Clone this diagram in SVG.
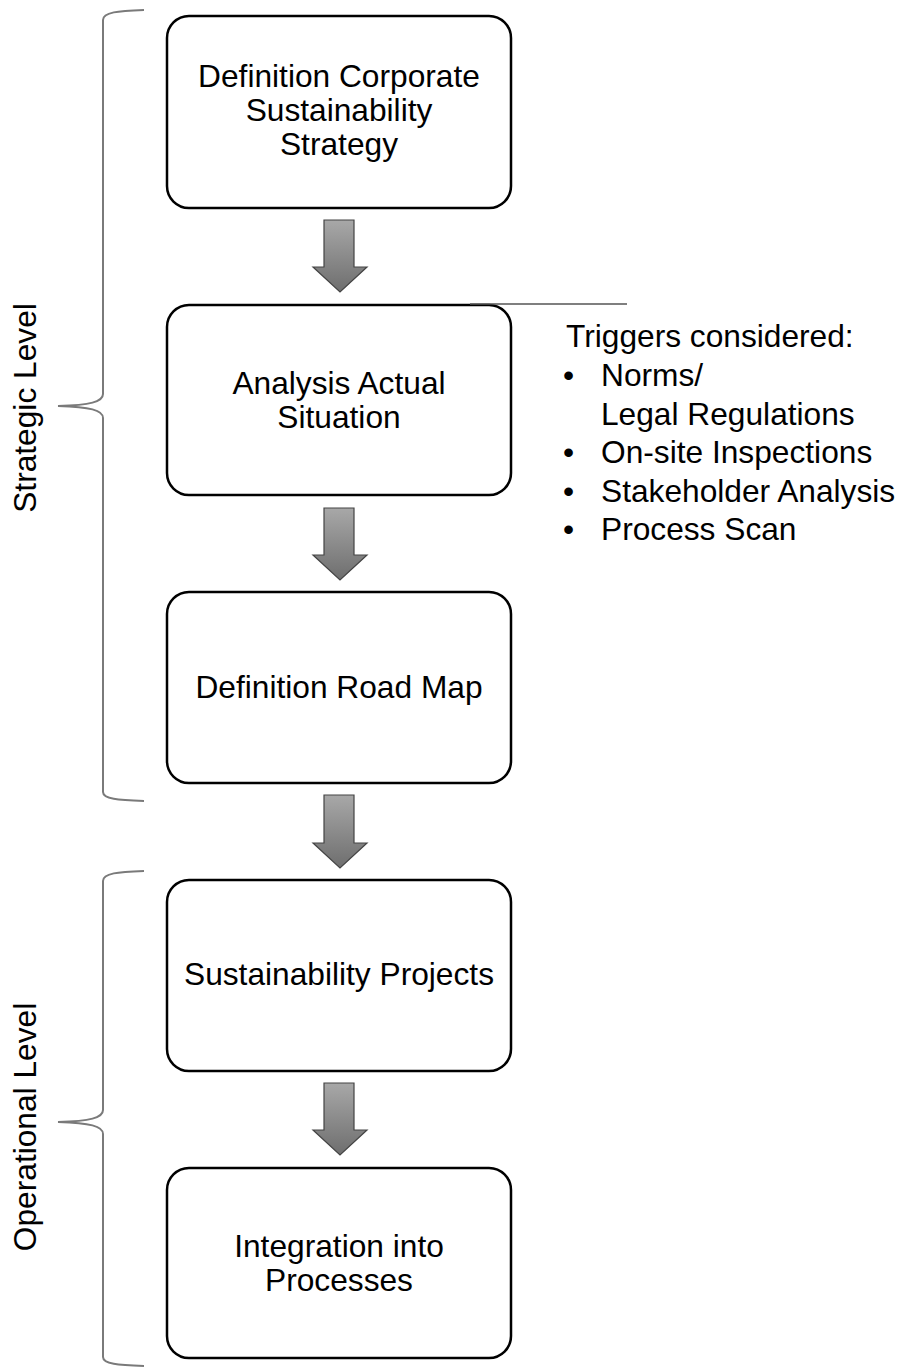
<svg xmlns="http://www.w3.org/2000/svg" width="898" height="1369" viewBox="0 0 898 1369">
<style>
.box{fill:#fff;stroke:#000;stroke-width:2.5}
.t{font-family:"Liberation Sans",Arial,sans-serif;font-size:31.7px;fill:#000}
.c{text-anchor:middle}
.brace{fill:none;stroke:#7a7a7a;stroke-width:2}
.arr{fill:url(#g);stroke:#444;stroke-width:1.2}
</style>
<defs>
<linearGradient id="g" x1="0" y1="0" x2="0" y2="1">
<stop offset="0" stop-color="#a8a8a8"/>
<stop offset="1" stop-color="#6e6e6e"/>
</linearGradient>
</defs>
<rect width="898" height="1369" fill="#fff"/>
<g id="connectors">
<path class="arr" d="M324,220 H354 V267 H367 L340,292 L313,267 H324 Z"/>
<path class="arr" d="M324,508 H354 V555 H367 L340,580 L313,555 H324 Z"/>
<path class="arr" d="M324,795 H354 V843 H367 L340,868 L313,843 H324 Z"/>
<path class="arr" d="M324,1083 H354 V1130 H367 L340,1155 L313,1130 H324 Z"/>
</g>
<g id="braces">
<path class="brace" d="M144,10 C118,11 103,12 103,20 L103,394 C103,402 90,405 58,406 C90,407 103,410 103,418 L103,792 C103,799 118,800 144,801"/>
<path class="brace" d="M144,871 C118,872 103,873 103,881 L103,1110 C103,1118 90,1121 58,1122 C90,1123 103,1126 103,1134 L103,1357 C103,1364 118,1365 144,1366"/>
</g>
<g id="n1">
<rect class="box" x="167" y="16" width="344" height="192" rx="22"/>
<text class="t c" x="339" y="87">Definition Corporate</text>
<text class="t c" x="339" y="121">Sustainability</text>
<text class="t c" x="339" y="155">Strategy</text>
</g>
<g id="n2">
<rect class="box" x="167" y="305" width="344" height="190" rx="22"/>
<text class="t c" x="339" y="394">Analysis Actual</text>
<text class="t c" x="339" y="428">Situation</text>
</g>
<g id="n3">
<rect class="box" x="167" y="592" width="344" height="191" rx="22"/>
<text class="t c" x="339" y="698">Definition Road Map</text>
</g>
<g id="n4">
<rect class="box" x="167" y="880" width="344" height="191" rx="22"/>
<text class="t c" x="339" y="985">Sustainability Projects</text>
</g>
<g id="n5">
<rect class="box" x="167" y="1168" width="344" height="190" rx="22"/>
<text class="t c" x="339" y="1257">Integration into</text>
<text class="t c" x="339" y="1291">Processes</text>
</g>
<g id="triggers">
<line x1="470" y1="304" x2="627" y2="304" stroke="#555" stroke-width="1.5"/>
<text class="t" x="566" y="347">Triggers considered:</text>
<text class="t" x="563" y="386">•</text>
<text class="t" x="601" y="386">Norms/</text>
<text class="t" x="601" y="425">Legal Regulations</text>
<text class="t" x="563" y="463">•</text>
<text class="t" x="601" y="463">On-site Inspections</text>
<text class="t" x="563" y="502">•</text>
<text class="t" x="601" y="502">Stakeholder Analysis</text>
<text class="t" x="563" y="540">•</text>
<text class="t" x="601" y="540">Process Scan</text>
</g>
<g id="labels">
<text class="t c" transform="translate(36,408) rotate(-90)">Strategic Level</text>
<text class="t c" transform="translate(36,1127) rotate(-90)">Operational Level</text>
</g>
</svg>
